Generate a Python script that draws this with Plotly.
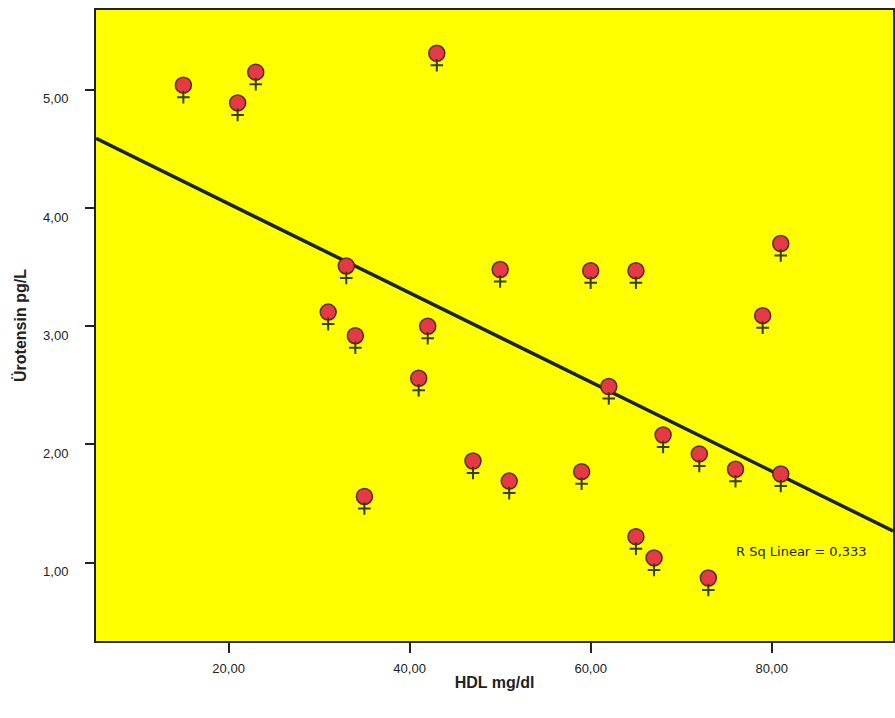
import numpy as np
import plotly.graph_objects as go

hdl = [15, 21, 23, 43, 33, 31, 42, 34, 41, 35, 47, 51, 50, 60, 65, 81, 79, 62, 68, 72, 76, 81, 59, 65, 67, 73]
urotensin = [5.04, 4.89, 5.15, 5.31, 3.51, 3.12, 3.00, 2.92, 2.56, 1.56, 1.86, 1.69, 3.48, 3.47, 3.47, 3.70, 3.09, 2.49, 2.08, 1.92, 1.79, 1.75, 1.77, 1.22, 1.04, 0.87]
x_ticks = [20, 40, 60, 80]
y_ticks = [1, 2, 3, 4, 5]
r2_label = "R Sq Linear = 0,333"

x_range = [5.35, 93.4]
y_range = [0.337, 5.676]

slope, intercept = np.polyfit(hdl, urotensin, 1)
line_x = np.array(x_range)
line_y = slope * line_x + intercept

plot_h = 718 - 10 - 77
cross_px = 12  # cross of the female symbol sits this many px below the circle
cross_shift = cross_px * (y_range[1] - y_range[0]) / plot_h
y2_range = [y_range[0] + cross_shift, y_range[1] + cross_shift]

font_fam = "Liberation Sans Narrow, Arial Narrow, Liberation Sans, sans-serif"

fig = go.Figure()
fig.add_trace(go.Scatter(
    x=line_x, y=line_y, mode="lines",
    line=dict(color="#1a2230", width=3.5),
    hoverinfo="skip", showlegend=False,
))
fig.add_trace(go.Scatter(
    x=hdl, y=urotensin, mode="markers", yaxis="y2",
    marker=dict(symbol="cross-thin", size=9,
                line=dict(color="#34401c", width=2)),
    hoverinfo="skip", showlegend=False,
))
fig.add_trace(go.Scatter(
    x=hdl, y=urotensin, mode="markers",
    marker=dict(symbol="circle", size=16, color="#e33a46",
                line=dict(color="#5a2a20", width=1.5)),
    showlegend=False,
))
fig.add_annotation(
    x=83.3, y=1.095, text=r2_label, showarrow=False,
    font=dict(family="DejaVu Sans", size=13, color="#222222"),
)

fig.update_layout(
    width=895, height=718,
    margin=dict(l=96, r=0, t=10, b=77),
    paper_bgcolor="white", plot_bgcolor="#ffff00",
    separators=",.",
    font=dict(family=font_fam, color="#222222"),
    yaxis2=dict(overlaying="y", range=y2_range, visible=False,
                showgrid=False, zeroline=False),
)
fig.update_xaxes(
    range=x_range, tickvals=x_ticks, tickformat=".2f",
    showgrid=False, zeroline=False,
    showline=True, linecolor="#222222", linewidth=2, mirror=True,
    ticks="outside", ticklen=10, tickcolor="#222222", tickwidth=1.5,
    ticklabelstandoff=4,
    tickfont=dict(size=13, family=font_fam),
    title=dict(text="<b>HDL mg/dl</b>", font=dict(size=16, family=font_fam), standoff=2),
)
fig.update_layout(yaxis=dict(
    range=y_range, tickvals=y_ticks, tickformat=".2f",
    showgrid=False, zeroline=False,
    showline=True, linecolor="#222222", linewidth=2, mirror=True,
    ticks="outside", ticklen=9, tickcolor="#222222", tickwidth=1.5,
    ticklabelstandoff=14, ticklabelshift=9,
    tickfont=dict(size=13, family=font_fam),
    title=dict(text="<b>Ürotensin pg/L</b>", font=dict(size=16, family=font_fam), standoff=12),
))

fig.write_html("out.html")
